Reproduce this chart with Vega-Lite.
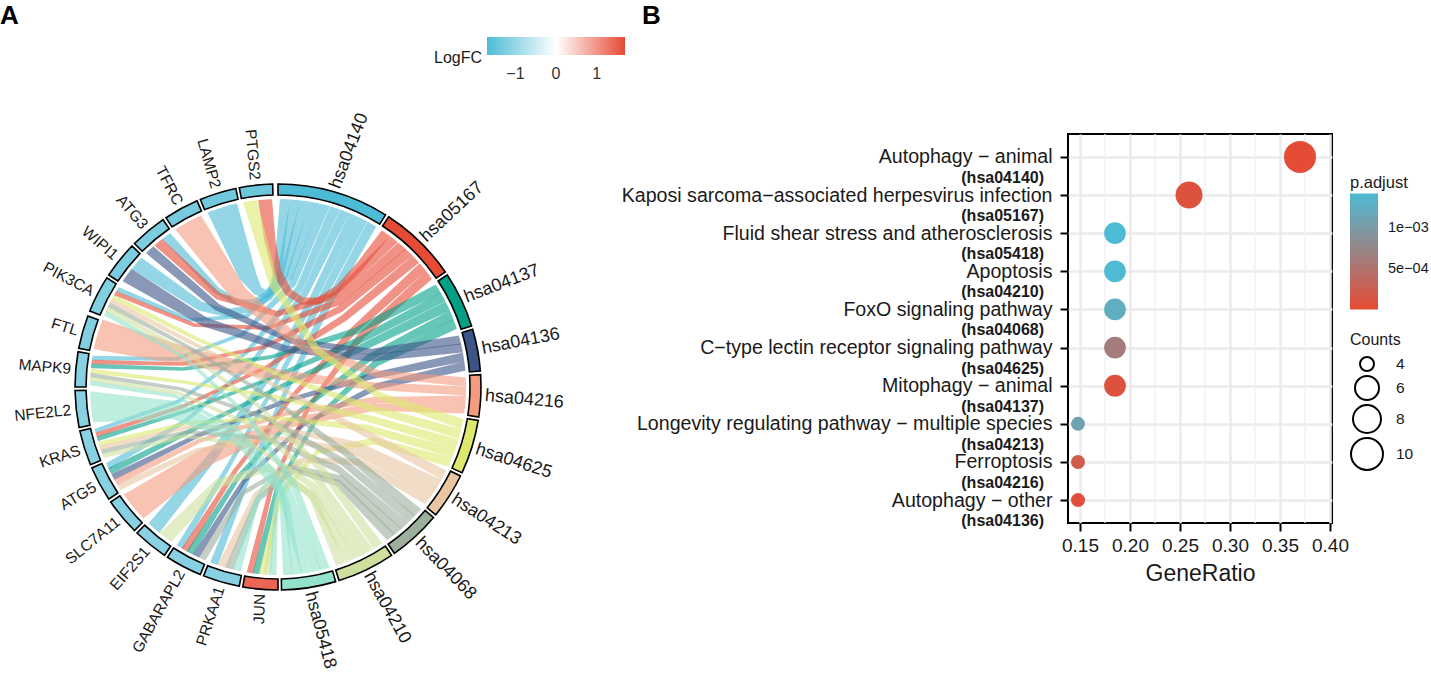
{"$schema":"https://vega.github.io/schema/vega-lite/v6.json","padding":0,"background":"white","spacing":-5,"config":{"font":"Liberation Sans","text":{"font":"Liberation Sans"}},"resolve":{"scale":{"color":"independent","fill":"independent","size":"independent"},"legend":{"color":"independent","fill":"independent","size":"independent"}},"datasets":{"links":[
{"g":"LAMP2","p":"hsa04140","t":0,"x":-56,"y":180,"w":31},{"g":"LAMP2","p":"hsa04140","t":1,"x":-31,"y":113,"w":18},{"g":"LAMP2","p":"hsa04140","t":1.5,"x":-21,"y":97,"w":10},{"g":"LAMP2","p":"hsa04140","t":2,"x":-12,"y":92,"w":7},{"g":"LAMP2","p":"hsa04140","t":2.5,"x":-5,"y":99,"w":7},{"g":"LAMP2","p":"hsa04140","t":3,"x":0,"y":117,"w":7.5},{"g":"LAMP2","p":"hsa04140","t":4,"x":7,"y":188,"w":10},
{"g":"ATG3","p":"hsa04140","t":0,"x":-112,"y":151,"w":10},{"g":"ATG3","p":"hsa04140","t":1,"x":-62,"y":97,"w":6},{"g":"ATG3","p":"hsa04140","t":1.5,"x":-41,"y":85,"w":5},{"g":"ATG3","p":"hsa04140","t":2,"x":-24,"y":85,"w":5},{"g":"ATG3","p":"hsa04140","t":2.5,"x":-9,"y":94,"w":5},{"g":"ATG3","p":"hsa04140","t":3,"x":3,"y":115,"w":6},{"g":"ATG3","p":"hsa04140","t":4,"x":17,"y":187,"w":10},
{"g":"WIPI1","p":"hsa04140","t":0,"x":-142,"y":124,"w":15},{"g":"WIPI1","p":"hsa04140","t":1,"x":-78,"y":81,"w":9},{"g":"WIPI1","p":"hsa04140","t":1.5,"x":-52,"y":74,"w":7},{"g":"WIPI1","p":"hsa04140","t":2,"x":-29,"y":78,"w":6},{"g":"WIPI1","p":"hsa04140","t":2.5,"x":-9,"y":90,"w":6},{"g":"WIPI1","p":"hsa04140","t":3,"x":6,"y":112,"w":6.6},{"g":"WIPI1","p":"hsa04140","t":4,"x":27,"y":186,"w":10},
{"g":"PIK3CA","p":"hsa04140","t":0,"x":-161,"y":98,"w":4.5},{"g":"PIK3CA","p":"hsa04140","t":1,"x":-88,"y":67,"w":3.2},{"g":"PIK3CA","p":"hsa04140","t":2,"x":-31,"y":71,"w":3.6},{"g":"PIK3CA","p":"hsa04140","t":3,"x":11,"y":110,"w":5.9},{"g":"PIK3CA","p":"hsa04140","t":4,"x":37,"y":184,"w":10},
{"g":"MAPK9","p":"hsa04140","t":0,"x":-186,"y":29,"w":4.2},{"g":"MAPK9","p":"hsa04140","t":1,"x":-102,"y":28,"w":3},{"g":"MAPK9","p":"hsa04140","t":2,"x":-35,"y":53,"w":3.5},{"g":"MAPK9","p":"hsa04140","t":3,"x":15,"y":104,"w":5.9},{"g":"MAPK9","p":"hsa04140","t":4,"x":47,"y":182,"w":10},
{"g":"KRAS","p":"hsa04140","t":0,"x":-183,"y":-44,"w":4.2},{"g":"KRAS","p":"hsa04140","t":1,"x":-99,"y":-14,"w":3},{"g":"KRAS","p":"hsa04140","t":2,"x":-32,"y":34,"w":3.5},{"g":"KRAS","p":"hsa04140","t":3,"x":21,"y":98,"w":5.9},{"g":"KRAS","p":"hsa04140","t":4,"x":57,"y":179,"w":10},
{"g":"ATG5","p":"hsa04140","t":0,"x":-170,"y":-79,"w":5.9},{"g":"ATG5","p":"hsa04140","t":1,"x":-91,"y":-33,"w":3.9},{"g":"ATG5","p":"hsa04140","t":2,"x":-26,"y":24,"w":4},{"g":"ATG5","p":"hsa04140","t":3,"x":27,"y":94,"w":6},{"g":"ATG5","p":"hsa04140","t":4,"x":67,"y":176,"w":10},
{"g":"EIF2S1","p":"hsa04140","t":0,"x":-124,"y":-141,"w":14.5},{"g":"EIF2S1","p":"hsa04140","t":1,"x":-65,"y":-69,"w":8.8},{"g":"EIF2S1","p":"hsa04140","t":2,"x":-12,"y":8,"w":6},{"g":"EIF2S1","p":"hsa04140","t":3,"x":35,"y":88,"w":6.5},{"g":"EIF2S1","p":"hsa04140","t":4,"x":76,"y":172,"w":10},
{"g":"GABARAPL2","p":"hsa04140","t":0,"x":-98,"y":-160,"w":6.2},{"g":"GABARAPL2","p":"hsa04140","t":1,"x":-50,"y":-80,"w":4.1},{"g":"GABARAPL2","p":"hsa04140","t":2,"x":-3,"y":2,"w":4},{"g":"GABARAPL2","p":"hsa04140","t":3,"x":42,"y":85,"w":6},{"g":"GABARAPL2","p":"hsa04140","t":4,"x":85,"y":168,"w":10},
{"g":"PRKAA1","p":"hsa04140","t":0,"x":-64,"y":-177,"w":7.8},{"g":"PRKAA1","p":"hsa04140","t":1,"x":-30,"y":-89,"w":5},{"g":"PRKAA1","p":"hsa04140","t":2,"x":8,"y":-4,"w":4.5},{"g":"PRKAA1","p":"hsa04140","t":3,"x":49,"y":81,"w":6},{"g":"PRKAA1","p":"hsa04140","t":4,"x":94,"y":163,"w":10},
{"g":"PTGS2","p":"hsa05167","t":0,"x":-13,"y":188,"w":14},{"g":"PTGS2","p":"hsa05167","t":0.5,"x":-8,"y":146,"w":11},{"g":"PTGS2","p":"hsa05167","t":1,"x":-1,"y":115,"w":8.5},{"g":"PTGS2","p":"hsa05167","t":1.5,"x":10,"y":95,"w":6.9},{"g":"PTGS2","p":"hsa05167","t":2,"x":24,"y":86,"w":6},{"g":"PTGS2","p":"hsa05167","t":2.5,"x":40,"y":86,"w":5.9},{"g":"PTGS2","p":"hsa05167","t":3,"x":60,"y":98,"w":6.5},{"g":"PTGS2","p":"hsa05167","t":3.5,"x":82,"y":121,"w":7.9},{"g":"PTGS2","p":"hsa05167","t":4,"x":108,"y":154,"w":10},
{"g":"ATG3","p":"hsa05167","t":0,"x":-120,"y":145,"w":10},{"g":"ATG3","p":"hsa05167","t":1,"x":-60,"y":91,"w":6.2},{"g":"ATG3","p":"hsa05167","t":2,"x":-1,"y":73,"w":5},{"g":"ATG3","p":"hsa05167","t":3,"x":58,"y":92,"w":6.2},{"g":"ATG3","p":"hsa05167","t":4,"x":116,"y":148,"w":10},
{"g":"PIK3CA","p":"hsa05167","t":0,"x":-163,"y":94,"w":4.5},{"g":"PIK3CA","p":"hsa05167","t":1,"x":-84,"y":62,"w":3.2},{"g":"PIK3CA","p":"hsa05167","t":2,"x":-10,"y":59,"w":3.6},{"g":"PIK3CA","p":"hsa05167","t":3,"x":60,"y":85,"w":5.9},{"g":"PIK3CA","p":"hsa05167","t":4,"x":124,"y":141,"w":10},
{"g":"MAPK9","p":"hsa05167","t":0,"x":-186,"y":25,"w":4.2},{"g":"MAPK9","p":"hsa05167","t":1,"x":-96,"y":23,"w":3},{"g":"MAPK9","p":"hsa05167","t":2,"x":-14,"y":40,"w":3.5},{"g":"MAPK9","p":"hsa05167","t":3,"x":62,"y":78,"w":5.9},{"g":"MAPK9","p":"hsa05167","t":4,"x":131,"y":135,"w":10},
{"g":"KRAS","p":"hsa05167","t":0,"x":-182,"y":-48,"w":4.2},{"g":"KRAS","p":"hsa05167","t":1,"x":-94,"y":-19,"w":3},{"g":"KRAS","p":"hsa05167","t":2,"x":-11,"y":20,"w":3.5},{"g":"KRAS","p":"hsa05167","t":3,"x":66,"y":69,"w":5.9},{"g":"KRAS","p":"hsa05167","t":4,"x":138,"y":128,"w":10},
{"g":"GABARAPL2","p":"hsa05167","t":0,"x":-93,"y":-163,"w":6.2},{"g":"GABARAPL2","p":"hsa05167","t":1,"x":-43,"y":-84,"w":4.1},{"g":"GABARAPL2","p":"hsa05167","t":2,"x":13,"y":-11,"w":4},{"g":"GABARAPL2","p":"hsa05167","t":3,"x":76,"y":57,"w":6},{"g":"GABARAPL2","p":"hsa05167","t":4,"x":145,"y":120,"w":10},
{"g":"JUN","p":"hsa05167","t":0,"x":-28,"y":-186,"w":5.9},{"g":"JUN","p":"hsa05167","t":1,"x":-6,"y":-98,"w":3.9},{"g":"JUN","p":"hsa05167","t":2,"x":31,"y":-19,"w":4},{"g":"JUN","p":"hsa05167","t":3,"x":83,"y":51,"w":6},{"g":"JUN","p":"hsa05167","t":4,"x":151,"y":112,"w":10},
{"g":"MAPK9","p":"hsa04137","t":0,"x":-187,"y":21,"w":4.2},{"g":"MAPK9","p":"hsa04137","t":1,"x":-95,"y":18,"w":3},{"g":"MAPK9","p":"hsa04137","t":2,"x":-7,"y":30,"w":3.5},{"g":"MAPK9","p":"hsa04137","t":3,"x":78,"y":56,"w":5.9},{"g":"MAPK9","p":"hsa04137","t":4,"x":160,"y":98,"w":10},
{"g":"KRAS","p":"hsa04137","t":0,"x":-181,"y":-52,"w":4.2},{"g":"KRAS","p":"hsa04137","t":1,"x":-92,"y":-24,"w":3},{"g":"KRAS","p":"hsa04137","t":2,"x":-4,"y":10,"w":3.5},{"g":"KRAS","p":"hsa04137","t":3,"x":82,"y":47,"w":5.9},{"g":"KRAS","p":"hsa04137","t":4,"x":165,"y":90,"w":10},
{"g":"ATG5","p":"hsa04137","t":0,"x":-168,"y":-84,"w":5.9},{"g":"ATG5","p":"hsa04137","t":1,"x":-84,"y":-42,"w":3.9},{"g":"ATG5","p":"hsa04137","t":2,"x":0,"y":-1,"w":4},{"g":"ATG5","p":"hsa04137","t":3,"x":85,"y":40,"w":6},{"g":"ATG5","p":"hsa04137","t":4,"x":170,"y":81,"w":10},
{"g":"GABARAPL2","p":"hsa04137","t":0,"x":-88,"y":-166,"w":6.2},{"g":"GABARAPL2","p":"hsa04137","t":1,"x":-39,"y":-89,"w":4.1},{"g":"GABARAPL2","p":"hsa04137","t":2,"x":22,"y":-24,"w":4},{"g":"GABARAPL2","p":"hsa04137","t":3,"x":92,"y":30,"w":6},{"g":"GABARAPL2","p":"hsa04137","t":4,"x":174,"y":72,"w":10},
{"g":"JUN","p":"hsa04137","t":0,"x":-22,"y":-187,"w":5.9},{"g":"JUN","p":"hsa04137","t":1,"x":-1,"y":-101,"w":3.9},{"g":"JUN","p":"hsa04137","t":2,"x":39,"y":-31,"w":4},{"g":"JUN","p":"hsa04137","t":3,"x":98,"y":24,"w":6},{"g":"JUN","p":"hsa04137","t":4,"x":177,"y":63,"w":10},
{"g":"ATG3","p":"hsa04136","t":0,"x":-128,"y":137,"w":10},{"g":"ATG3","p":"hsa04136","t":1,"x":-61,"y":80,"w":6.2},{"g":"ATG3","p":"hsa04136","t":2,"x":14,"y":46,"w":4.8},{"g":"ATG3","p":"hsa04136","t":3,"x":94,"y":35,"w":5.7},{"g":"ATG3","p":"hsa04136","t":4,"x":182,"y":47,"w":9},
{"g":"WIPI1","p":"hsa04136","t":0,"x":-151,"y":112,"w":15},{"g":"WIPI1","p":"hsa04136","t":1,"x":-73,"y":65,"w":9},{"g":"WIPI1","p":"hsa04136","t":2,"x":8,"y":38,"w":6},{"g":"WIPI1","p":"hsa04136","t":3,"x":94,"y":29,"w":6},{"g":"WIPI1","p":"hsa04136","t":4,"x":184,"y":39,"w":9},
{"g":"ATG5","p":"hsa04136","t":0,"x":-165,"y":-90,"w":5.9},{"g":"ATG5","p":"hsa04136","t":1,"x":-81,"y":-49,"w":3.9},{"g":"ATG5","p":"hsa04136","t":2,"x":5,"y":-15,"w":3.7},{"g":"ATG5","p":"hsa04136","t":3,"x":94,"y":11,"w":5.4},{"g":"ATG5","p":"hsa04136","t":4,"x":186,"y":30,"w":9},
{"g":"GABARAPL2","p":"hsa04136","t":0,"x":-82,"y":-169,"w":6.2},{"g":"GABARAPL2","p":"hsa04136","t":1,"x":-34,"y":-94,"w":4},{"g":"GABARAPL2","p":"hsa04136","t":2,"x":26,"y":-37,"w":3.8},{"g":"GABARAPL2","p":"hsa04136","t":3,"x":100,"y":1,"w":5.5},{"g":"GABARAPL2","p":"hsa04136","t":4,"x":187,"y":21,"w":9},
{"g":"TFRC","p":"hsa04216","t":0,"x":-90,"y":165,"w":29},{"g":"TFRC","p":"hsa04216","t":1,"x":-39,"y":93,"w":17},{"g":"TFRC","p":"hsa04216","t":2,"x":24,"y":42,"w":9.5},{"g":"TFRC","p":"hsa04216","t":3,"x":100,"y":13,"w":6.9},{"g":"TFRC","p":"hsa04216","t":4,"x":188,"y":5,"w":9},
{"g":"FTL","p":"hsa04216","t":0,"x":-181,"y":53,"w":31},{"g":"FTL","p":"hsa04216","t":1,"x":-90,"y":30,"w":18},{"g":"FTL","p":"hsa04216","t":2,"x":2,"y":12,"w":10},{"g":"FTL","p":"hsa04216","t":3,"x":94,"y":1,"w":7},{"g":"FTL","p":"hsa04216","t":4,"x":188,"y":-4,"w":9},
{"g":"ATG5","p":"hsa04216","t":0,"x":-162,"y":-95,"w":5.9},{"g":"ATG5","p":"hsa04216","t":1,"x":-79,"y":-54,"w":3.9},{"g":"ATG5","p":"hsa04216","t":2,"x":7,"y":-27,"w":3.7},{"g":"ATG5","p":"hsa04216","t":3,"x":96,"y":-13,"w":5.4},{"g":"ATG5","p":"hsa04216","t":4,"x":188,"y":-13,"w":9},
{"g":"SLC7A11","p":"hsa04216","t":0,"x":-145,"y":-120,"w":31},{"g":"SLC7A11","p":"hsa04216","t":1,"x":-70,"y":-69,"w":18},{"g":"SLC7A11","p":"hsa04216","t":2,"x":10,"y":-36,"w":10},{"g":"SLC7A11","p":"hsa04216","t":3,"x":96,"y":-20,"w":7},{"g":"SLC7A11","p":"hsa04216","t":4,"x":187,"y":-22,"w":9},
{"g":"PTGS2","p":"hsa04625","t":0,"x":-28,"y":186,"w":14},{"g":"PTGS2","p":"hsa04625","t":1,"x":-4,"y":102,"w":8.5},{"g":"PTGS2","p":"hsa04625","t":2,"x":39,"y":37,"w":6},{"g":"PTGS2","p":"hsa04625","t":3,"x":102,"y":-9,"w":6.4},{"g":"PTGS2","p":"hsa04625","t":4,"x":184,"y":-37,"w":10},
{"g":"PIK3CA","p":"hsa04625","t":0,"x":-165,"y":90,"w":4.5},{"g":"PIK3CA","p":"hsa04625","t":1,"x":-81,"y":48,"w":3.2},{"g":"PIK3CA","p":"hsa04625","t":2,"x":4,"y":11,"w":3.6},{"g":"PIK3CA","p":"hsa04625","t":3,"x":92,"y":-21,"w":5.9},{"g":"PIK3CA","p":"hsa04625","t":4,"x":182,"y":-47,"w":10},
{"g":"MAPK9","p":"hsa04625","t":0,"x":-187,"y":16,"w":4.2},{"g":"MAPK9","p":"hsa04625","t":1,"x":-94,"y":5,"w":3},{"g":"MAPK9","p":"hsa04625","t":2,"x":-2,"y":-10,"w":3.5},{"g":"MAPK9","p":"hsa04625","t":3,"x":89,"y":-31,"w":5.9},{"g":"MAPK9","p":"hsa04625","t":4,"x":179,"y":-57,"w":10},
{"g":"KRAS","p":"hsa04625","t":0,"x":-179,"y":-57,"w":4.2},{"g":"KRAS","p":"hsa04625","t":1,"x":-90,"y":-36,"w":3},{"g":"KRAS","p":"hsa04625","t":2,"x":-1,"y":-31,"w":3.5},{"g":"KRAS","p":"hsa04625","t":3,"x":88,"y":-41,"w":5.9},{"g":"KRAS","p":"hsa04625","t":4,"x":176,"y":-66,"w":10},
{"g":"JUN","p":"hsa04625","t":0,"x":-16,"y":-187,"w":5.9},{"g":"JUN","p":"hsa04625","t":1,"x":2,"y":-110,"w":3.9},{"g":"JUN","p":"hsa04625","t":2,"x":39,"y":-65,"w":4},{"g":"JUN","p":"hsa04625","t":3,"x":96,"y":-54,"w":6},{"g":"JUN","p":"hsa04625","t":4,"x":172,"y":-75,"w":10},
{"g":"PIK3CA","p":"hsa04213","t":0,"x":-167,"y":86,"w":4.5},{"g":"PIK3CA","p":"hsa04213","t":1,"x":-84,"y":43,"w":3.2},{"g":"PIK3CA","p":"hsa04213","t":2,"x":0,"y":0,"w":3.6},{"g":"PIK3CA","p":"hsa04213","t":3,"x":83,"y":-44,"w":5.9},{"g":"PIK3CA","p":"hsa04213","t":4,"x":166,"y":-88,"w":10},
{"g":"KRAS","p":"hsa04213","t":0,"x":-178,"y":-61,"w":4.2},{"g":"KRAS","p":"hsa04213","t":1,"x":-90,"y":-40,"w":3},{"g":"KRAS","p":"hsa04213","t":2,"x":-4,"y":-40,"w":3.5},{"g":"KRAS","p":"hsa04213","t":3,"x":79,"y":-58,"w":5.9},{"g":"KRAS","p":"hsa04213","t":4,"x":161,"y":-97,"w":10},
{"g":"ATG5","p":"hsa04213","t":0,"x":-159,"y":-100,"w":5.9},{"g":"ATG5","p":"hsa04213","t":1,"x":-80,"y":-63,"w":3.9},{"g":"ATG5","p":"hsa04213","t":2,"x":-1,"y":-51,"w":4},{"g":"ATG5","p":"hsa04213","t":3,"x":78,"y":-65,"w":6},{"g":"ATG5","p":"hsa04213","t":4,"x":156,"y":-105,"w":10},
{"g":"PRKAA1","p":"hsa04213","t":0,"x":-56,"y":-179,"w":7.8},{"g":"PRKAA1","p":"hsa04213","t":1,"x":-22,"y":-108,"w":5},{"g":"PRKAA1","p":"hsa04213","t":2,"x":24,"y":-73,"w":4.5},{"g":"PRKAA1","p":"hsa04213","t":3,"x":81,"y":-75,"w":6},{"g":"PRKAA1","p":"hsa04213","t":4,"x":150,"y":-113,"w":10},
{"g":"PIK3CA","p":"hsa04068","t":0,"x":-169,"y":82,"w":4.5},{"g":"PIK3CA","p":"hsa04068","t":1,"x":-86,"y":38,"w":3.2},{"g":"PIK3CA","p":"hsa04068","t":2,"x":-7,"y":-11,"w":3.6},{"g":"PIK3CA","p":"hsa04068","t":3,"x":68,"y":-66,"w":5.9},{"g":"PIK3CA","p":"hsa04068","t":4,"x":140,"y":-126,"w":10},
{"g":"MAPK9","p":"hsa04068","t":0,"x":-188,"y":12,"w":4.2},{"g":"MAPK9","p":"hsa04068","t":1,"x":-97,"y":-2,"w":3},{"g":"MAPK9","p":"hsa04068","t":2,"x":-14,"y":-30,"w":3.5},{"g":"MAPK9","p":"hsa04068","t":3,"x":64,"y":-74,"w":5.9},{"g":"MAPK9","p":"hsa04068","t":4,"x":134,"y":-132,"w":10},
{"g":"KRAS","p":"hsa04068","t":0,"x":-177,"y":-65,"w":4.2},{"g":"KRAS","p":"hsa04068","t":1,"x":-92,"y":-45,"w":3},{"g":"KRAS","p":"hsa04068","t":2,"x":-12,"y":-51,"w":3.5},{"g":"KRAS","p":"hsa04068","t":3,"x":60,"y":-82,"w":5.9},{"g":"KRAS","p":"hsa04068","t":4,"x":127,"y":-139,"w":10},
{"g":"GABARAPL2","p":"hsa04068","t":0,"x":-76,"y":-172,"w":6.2},{"g":"GABARAPL2","p":"hsa04068","t":1,"x":-35,"y":-106,"w":4.1},{"g":"GABARAPL2","p":"hsa04068","t":2,"x":11,"y":-79,"w":4},{"g":"GABARAPL2","p":"hsa04068","t":3,"x":63,"y":-92,"w":6},{"g":"GABARAPL2","p":"hsa04068","t":4,"x":120,"y":-145,"w":10},
{"g":"PRKAA1","p":"hsa04068","t":0,"x":-49,"y":-182,"w":7.8},{"g":"PRKAA1","p":"hsa04068","t":1,"x":-20,"y":-112,"w":5},{"g":"PRKAA1","p":"hsa04068","t":2,"x":16,"y":-83,"w":4.5},{"g":"PRKAA1","p":"hsa04068","t":3,"x":60,"y":-96,"w":6},{"g":"PRKAA1","p":"hsa04068","t":4,"x":113,"y":-150,"w":10},
{"g":"PIK3CA","p":"hsa04210","t":0,"x":-171,"y":78,"w":4.5},{"g":"PIK3CA","p":"hsa04210","t":1,"x":-90,"y":34,"w":3.2},{"g":"PIK3CA","p":"hsa04210","t":2,"x":-18,"y":-20,"w":3.6},{"g":"PIK3CA","p":"hsa04210","t":3,"x":46,"y":-85,"w":5.9},{"g":"PIK3CA","p":"hsa04210","t":4,"x":100,"y":-159,"w":10},
{"g":"MAPK9","p":"hsa04210","t":0,"x":-188,"y":8,"w":4.2},{"g":"MAPK9","p":"hsa04210","t":1,"x":-100,"y":-6,"w":3},{"g":"MAPK9","p":"hsa04210","t":2,"x":-24,"y":-39,"w":3.5},{"g":"MAPK9","p":"hsa04210","t":3,"x":39,"y":-92,"w":5.9},{"g":"MAPK9","p":"hsa04210","t":4,"x":91,"y":-165,"w":10},
{"g":"KRAS","p":"hsa04210","t":0,"x":-175,"y":-69,"w":4.2},{"g":"KRAS","p":"hsa04210","t":1,"x":-93,"y":-49,"w":3},{"g":"KRAS","p":"hsa04210","t":2,"x":-23,"y":-59,"w":3.5},{"g":"KRAS","p":"hsa04210","t":3,"x":35,"y":-99,"w":5.9},{"g":"KRAS","p":"hsa04210","t":4,"x":82,"y":-169,"w":10},
{"g":"EIF2S1","p":"hsa04210","t":0,"x":-113,"y":-151,"w":14.5},{"g":"EIF2S1","p":"hsa04210","t":1,"x":-59,"y":-96,"w":8.8},{"g":"EIF2S1","p":"hsa04210","t":2,"x":-10,"y":-81,"w":6},{"g":"EIF2S1","p":"hsa04210","t":3,"x":34,"y":-107,"w":6.5},{"g":"EIF2S1","p":"hsa04210","t":4,"x":73,"y":-173,"w":10},
{"g":"JUN","p":"hsa04210","t":0,"x":-11,"y":-188,"w":5.9},{"g":"JUN","p":"hsa04210","t":1,"x":-2,"y":-117,"w":3.9},{"g":"JUN","p":"hsa04210","t":2,"x":13,"y":-91,"w":4},{"g":"JUN","p":"hsa04210","t":3,"x":35,"y":-111,"w":6},{"g":"JUN","p":"hsa04210","t":4,"x":63,"y":-177,"w":10},
{"g":"PIK3CA","p":"hsa05418","t":0,"x":-173,"y":74,"w":4.5},{"g":"PIK3CA","p":"hsa05418","t":1,"x":-94,"y":30,"w":3.2},{"g":"PIK3CA","p":"hsa05418","t":2,"x":-32,"y":-27,"w":3.6},{"g":"PIK3CA","p":"hsa05418","t":3,"x":16,"y":-98,"w":5.9},{"g":"PIK3CA","p":"hsa05418","t":4,"x":47,"y":-182,"w":10},
{"g":"MAPK9","p":"hsa05418","t":0,"x":-188,"y":4,"w":4.2},{"g":"MAPK9","p":"hsa05418","t":1,"x":-103,"y":-9,"w":3},{"g":"MAPK9","p":"hsa05418","t":2,"x":-38,"y":-45,"w":3.5},{"g":"MAPK9","p":"hsa05418","t":3,"x":10,"y":-103,"w":5.9},{"g":"MAPK9","p":"hsa05418","t":4,"x":38,"y":-184,"w":10},
{"g":"NFE2L2","p":"hsa05418","t":0,"x":-187,"y":-20,"w":31},{"g":"NFE2L2","p":"hsa05418","t":1,"x":-103,"y":-23,"w":18},{"g":"NFE2L2","p":"hsa05418","t":2,"x":-40,"y":-52,"w":10},{"g":"NFE2L2","p":"hsa05418","t":3,"x":4,"y":-106,"w":7},{"g":"NFE2L2","p":"hsa05418","t":4,"x":28,"y":-186,"w":9.5},
{"g":"PRKAA1","p":"hsa05418","t":0,"x":-41,"y":-183,"w":7.8},{"g":"PRKAA1","p":"hsa05418","t":1,"x":-22,"y":-115,"w":5},{"g":"PRKAA1","p":"hsa05418","t":1.5,"x":-13,"y":-98,"w":4},{"g":"PRKAA1","p":"hsa05418","t":2,"x":-5,"y":-92,"w":3.5},{"g":"PRKAA1","p":"hsa05418","t":2.5,"x":2,"y":-98,"w":4},{"g":"PRKAA1","p":"hsa05418","t":3,"x":8,"y":-117,"w":6},{"g":"PRKAA1","p":"hsa05418","t":4,"x":19,"y":-187,"w":9.5},
{"g":"JUN","p":"hsa05418","t":0,"x":-5,"y":-188,"w":5.9},{"g":"JUN","p":"hsa05418","t":1,"x":-2,"y":-118,"w":3.9},{"g":"JUN","p":"hsa05418","t":2,"x":1,"y":-94,"w":3.9},{"g":"JUN","p":"hsa05418","t":3,"x":5,"y":-118,"w":5.7},{"g":"JUN","p":"hsa05418","t":4,"x":10,"y":-188,"w":9.5}
],"pathRing":[{"x":0,"y":0,"p":"hsa04140","a":0,"b":32},{"x":0,"y":0,"p":"hsa05167","a":33,"b":55.5},{"x":0,"y":0,"p":"hsa04137","a":56.5,"b":72.5},{"x":0,"y":0,"p":"hsa04136","a":73.5,"b":85.5},{"x":0,"y":0,"p":"hsa04216","a":86.5,"b":98.5},{"x":0,"y":0,"p":"hsa04625","a":99.5,"b":115},{"x":0,"y":0,"p":"hsa04213","a":116,"b":129},{"x":0,"y":0,"p":"hsa04068","a":130,"b":145},{"x":0,"y":0,"p":"hsa04210","a":146,"b":162.5},{"x":0,"y":0,"p":"hsa05418","a":163.5,"b":179}],
"geneRing":[{"x":0,"y":0,"g":"JUN","a":180,"b":190,"lfc":1.45},{"x":0,"y":0,"g":"PRKAA1","a":191,"b":201.5,"lfc":-1.15},{"x":0,"y":0,"g":"GABARAPL2","a":202.5,"b":213,"lfc":-1.15},{"x":0,"y":0,"g":"EIF2S1","a":214,"b":224,"lfc":-1.15},{"x":0,"y":0,"g":"SLC7A11","a":225,"b":235.5,"lfc":-1.15},{"x":0,"y":0,"g":"ATG5","a":236.5,"b":246.5,"lfc":-1.15},{"x":0,"y":0,"g":"KRAS","a":247.5,"b":257.5,"lfc":-1.15},{"x":0,"y":0,"g":"NFE2L2","a":258.5,"b":269,"lfc":-1.15},{"x":0,"y":0,"g":"MAPK9","a":270,"b":280,"lfc":-1.15},{"x":0,"y":0,"g":"FTL","a":281,"b":290.5,"lfc":-1.2},{"x":0,"y":0,"g":"PIK3CA","a":292,"b":302.5,"lfc":-1.2},{"x":0,"y":0,"g":"WIPI1","a":303.5,"b":314,"lfc":-1.25},{"x":0,"y":0,"g":"ATG3","a":315,"b":325.5,"lfc":-1.25},{"x":0,"y":0,"g":"TFRC","a":326.5,"b":336.5,"lfc":-1.3},{"x":0,"y":0,"g":"LAMP2","a":337.5,"b":348,"lfc":-1.35},{"x":0,"y":0,"g":"PTGS2","a":349,"b":358.5,"lfc":-1.4}],
"labR":[{"x":57,"y":199,"rot":-69,"s":"hsa04140"},{"x":145,"y":148,"rot":-43,"s":"hsa05167"},{"x":187,"y":89,"rot":-21,"s":"hsa04137"},{"x":204,"y":38,"rot":-11,"s":"hsa04136"},{"x":207,"y":-9,"rot":5,"s":"hsa04216"},{"x":198,"y":-62,"rot":18,"s":"hsa04625"},{"x":175,"y":-111,"rot":33,"s":"hsa04213"},{"x":140,"y":-153,"rot":46,"s":"hsa04068"},{"x":90,"y":-186,"rot":61,"s":"hsa04210"},{"x":32,"y":-205,"rot":75,"s":"hsa05418"}],
"labL":[{"x":-23,"y":207,"rot":85,"s":"PTGS2"},{"x":-62,"y":199,"rot":74,"s":"LAMP2"},{"x":-99,"y":183,"rot":62,"s":"TFRC"},{"x":-133,"y":160,"rot":49,"s":"ATG3"},{"x":-162,"y":130,"rot":41,"s":"WIPI1"},{"x":-185,"y":95,"rot":28,"s":"PIK3CA"},{"x":-200,"y":56,"rot":17,"s":"FTL"},{"x":-207,"y":18,"rot":5,"s":"MAPK9"},{"x":-207,"y":-23,"rot":-6,"s":"NFE2L2"},{"x":-198,"y":-63,"rot":-18,"s":"KRAS"},{"x":-183,"y":-99,"rot":-31,"s":"ATG5"},{"x":-160,"y":-133,"rot":-39,"s":"SLC7A11"},{"x":-131,"y":-162,"rot":-49,"s":"EIF2S1"},{"x":-97,"y":-184,"rot":-61,"s":"GABARAPL2"},{"x":-58,"y":-200,"rot":-72,"s":"PRKAA1"},{"x":-18,"y":-207,"rot":-88,"s":"JUN"}],
"dots":[{"desc":"Autophagy − animal","id":"(hsa04140)","ratio":0.37,"Counts":10,"padj":0.00002},{"desc":"Kaposi sarcoma−associated herpesvirus infection","id":"(hsa05167)","ratio":0.259,"Counts":7,"padj":0.0001},{"desc":"Fluid shear stress and atherosclerosis","id":"(hsa05418)","ratio":0.185,"Counts":5,"padj":0.00141},{"desc":"Apoptosis","id":"(hsa04210)","ratio":0.185,"Counts":5,"padj":0.0014},{"desc":"FoxO signaling pathway","id":"(hsa04068)","ratio":0.185,"Counts":5,"padj":0.00125},{"desc":"C−type lectin receptor signaling pathway","id":"(hsa04625)","ratio":0.185,"Counts":5,"padj":0.00063},{"desc":"Mitophagy − animal","id":"(hsa04137)","ratio":0.185,"Counts":5,"padj":0.0001},{"desc":"Longevity regulating pathway − multiple species","id":"(hsa04213)","ratio":0.148,"Counts":4,"padj":0.0011},{"desc":"Ferroptosis","id":"(hsa04216)","ratio":0.148,"Counts":4,"padj":0.00022},{"desc":"Autophagy − other","id":"(hsa04136)","ratio":0.148,"Counts":4,"padj":0.00005}],
"minor":[{"v":0.175},{"v":0.225},{"v":0.275},{"v":0.325},{"v":0.375}]},
"hconcat":[{"width":600,"height":675,"view":{"stroke":null},
"encoding":{"x":{"field":"x","type":"quantitative","scale":{"domain":[-278,322],"nice":false,"zero":false},"axis":null},"y":{"field":"y","type":"quantitative","scale":{"domain":[-288,387],"nice":false,"zero":false},"axis":null}},
"layer":[
{"data":{"name":"links"},"mark":{"type":"trail","opacity":0.6},"encoding":{"color":{"field":"p","type":"nominal","legend":null,"scale":{"domain":["hsa04140","hsa05167","hsa04137","hsa04136","hsa04216","hsa04625","hsa04213","hsa04068","hsa04210","hsa05418"],"range":["#4DBBD5","#E64B35","#00A087","#3C5488","#F39B7F","#DCE96E","#E8C6A2","#9CAE9C","#CEDF9F","#93E3CC"]}},"detail":{"field":"g"},"order":{"field":"t","type":"quantitative"},"size":{"field":"w","type":"quantitative","legend":null,"scale":{"domain":[3,4.2,6,10,31],"range":[3.5,4.5,7,10,31]}}}},
{"data":{"values":[{"x":0,"y":0,"a":0,"b":360}]},"mark":{"type":"arc","radius":207,"radius2":188,"fill":"white"},"encoding":{"theta":{"field":"a","type":"quantitative","scale":{"domain":[0,360],"range":[0,6.283185]}},"theta2":{"field":"b"}}},
{"data":{"name":"pathRing"},"mark":{"type":"arc","radius":203,"radius2":192,"stroke":"black","strokeWidth":1.6},"encoding":{"color":{"field":"p","type":"nominal","legend":null},"theta":{"field":"a","type":"quantitative","scale":{"domain":[0,360],"range":[0,6.283185]}},"theta2":{"field":"b"}}},
{"data":{"name":"geneRing"},"mark":{"type":"arc","radius":203,"radius2":192,"stroke":"black","strokeWidth":1.6},"encoding":{"fill":{"field":"lfc","type":"quantitative","scale":{"domain":[-1.7,0,1.7],"range":["#4DBBD5","#FFFFFF","#E64B35"],"interpolate":"rgb"},"legend":{"orient":"none","direction":"horizontal","legendX":487,"legendY":37,"title":null,"gradientLength":138,"gradientThickness":18,"values":[-1,0,1],"labelExpr":"datum.value==-1?'−1':datum.value==1?'1':'0'","labelFontSize":16,"labelOffset":11,"labelColor":"#333333","labelFont":"Liberation Sans","labelOverlap":false}},"theta":{"field":"a","type":"quantitative","scale":{"domain":[0,360],"range":[0,6.283185]}},"theta2":{"field":"b"}}},
{"data":{"name":"labR"},"mark":{"type":"text","align":"left","baseline":"middle","fontSize":18,"color":"#1a1a1a"},"encoding":{"text":{"field":"s"},"angle":{"field":"rot","type":"quantitative","scale":null}}},
{"data":{"name":"labL"},"mark":{"type":"text","align":"right","baseline":"middle","fontSize":15.5,"color":"#1a1a1a"},"encoding":{"text":{"field":"s"},"angle":{"field":"rot","type":"quantitative","scale":null}}},
{"data":{"values":[{"x":156,"y":329,"s":"LogFC"}]},"mark":{"type":"text","align":"left","baseline":"middle","fontSize":16,"color":"#1a1a1a"},"encoding":{"text":{"field":"s"}}},
{"data":{"values":[{"x":-278,"y":371,"s":"A"}]},"mark":{"type":"text","align":"left","baseline":"middle","fontSize":26,"fontWeight":"bold","color":"black"},"encoding":{"text":{"field":"s"}}}
]},
{"spacing":20,"resolve":{"scale":{"color":"independent","size":"independent"},"legend":{"color":"independent","size":"independent"}},"vconcat":[
{"width":264,"height":112,"view":{"stroke":null},"data":{"values":[{"x":-426,"y":16,"s":"B"}]},"mark":{"type":"text","align":"left","baseline":"middle","fontSize":26,"fontWeight":"bold","color":"black"},"encoding":{"x":{"field":"x","type":"quantitative","axis":null,"scale":{"domain":[0,264],"nice":false,"zero":false}},"y":{"field":"y","type":"quantitative","axis":null,"scale":{"domain":[112,0],"nice":false,"zero":false}},"text":{"field":"s"}}},
{"width":264,"height":389,"view":{"stroke":"black","strokeWidth":2},"data":{"name":"dots"},
"layer":[
{"data":{"name":"minor"},"mark":{"type":"rule","color":"#eeeeee","strokeWidth":1.2},"encoding":{"x":{"field":"v","type":"quantitative","title":"GeneRatio","scale":{"domain":[0.138,0.402],"nice":false,"zero":false}}}},
{"mark":{"type":"point","filled":true,"opacity":1},"encoding":{"y":{"field":"desc","type":"nominal","sort":null,"title":null,"scale":{"type":"point","padding":0.6},"axis":{"labelFontSize":19.6,"labelLimit":600,"labelColor":"#1a1a1a","labelFont":"Liberation Sans","labelPadding":8,"tickColor":"black","tickWidth":2,"tickSize":8,"domain":false,"grid":true,"gridColor":"#ebebeb","gridWidth":2.5}},"x":{"field":"ratio","type":"quantitative","title":"GeneRatio","scale":{"domain":[0.138,0.402],"nice":false,"zero":false},"axis":{"values":[0.15,0.2,0.25,0.3,0.35,0.4],"format":".2f","labelFontSize":19,"labelColor":"#1a1a1a","labelFont":"Liberation Sans","labelPadding":5,"tickColor":"black","tickWidth":2,"tickSize":8,"domain":false,"grid":true,"gridColor":"#ebebeb","gridWidth":2.5,"titleFontSize":23,"titleFontWeight":"normal","titleColor":"#1a1a1a","titleFont":"Liberation Sans","titlePadding":7,"labelOverlap":false}},"color":{"field":"padj","type":"quantitative","scale":{"domain":[0.000012,0.001415],"range":["#E64B35","#4DBBD5"],"interpolate":"rgb"},"legend":{"orient":"none","legendX":282,"legendY":41,"title":"p.adjust","titleFontSize":16.5,"titleFontWeight":"normal","titleColor":"#1a1a1a","titleFont":"Liberation Sans","titlePadding":2,"gradientLength":116,"gradientThickness":28,"values":[0.0005,0.001],"labelExpr":"datum.value>0.0007?'1e−03':'5e−04'","labelFontSize":14.5,"labelOffset":10,"labelColor":"#1a1a1a","labelFont":"Liberation Sans","labelOverlap":false}},"size":{"field":"Counts","type":"quantitative","scale":{"domain":[4,5,6,7,8,10],"range":[196,471,576,729,784,1024]},"legend":{"orient":"none","legendX":282,"legendY":198,"title":"Counts","titleFontSize":16,"titleFontWeight":"normal","titleColor":"#1a1a1a","titleFont":"Liberation Sans","titlePadding":8,"rowPadding":-5,"values":[4,6,8,10],"symbolType":"circle","symbolFillColor":"transparent","symbolStrokeColor":"black","symbolStrokeWidth":2,"labelFontSize":15.5,"labelOffset":12,"labelColor":"#1a1a1a","labelFont":"Liberation Sans"}}}},
{"mark":{"type":"text","align":"right","baseline":"middle","fontSize":16,"fontWeight":"bold","dx":-24,"dy":21,"color":"#1a1a1a"},"encoding":{"y":{"field":"desc","type":"nominal","sort":null,"title":null,"scale":{"type":"point","padding":0.6}},"x":{"datum":0.138,"title":"GeneRatio"},"text":{"field":"id"}}}
]}
]}
]}
